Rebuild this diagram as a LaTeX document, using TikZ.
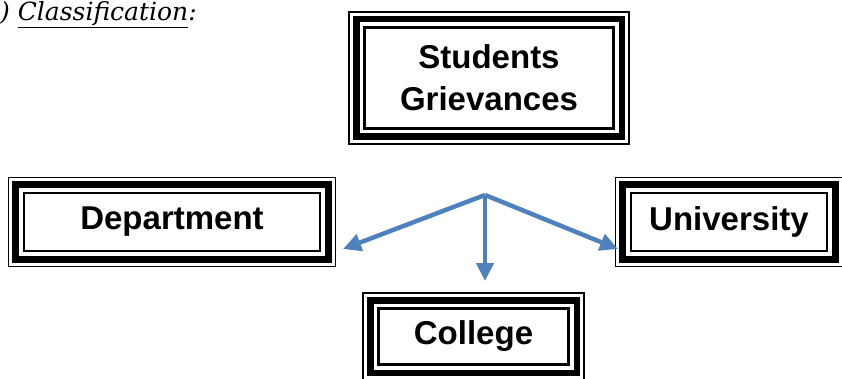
\documentclass[tikz,border=0pt]{standalone}
\usepackage{fontspec}
\usepackage{tikz}
\usepackage{xcolor}
\usetikzlibrary{arrows.meta}
\newfontfamily\boxfont{Liberation Sans}
\newfontfamily\headfont{DejaVu Serif}
\definecolor{flowblue}{HTML}{4F81BD}

% thin / thick / thin border round a box
\newcommand{\gframe}[1]{%
	\draw[line width=6.8pt] ([shift={(-7.3pt,7.3pt)}]#1.north west) rectangle ([shift={(7.3pt,-7.3pt)}]#1.south east);
	\draw[line width=1.6pt] ([shift={(-14.5pt,14.5pt)}]#1.north west) rectangle ([shift={(14.5pt,-14.5pt)}]#1.south east);
}

\begin{document}
\begin{tikzpicture}[x=1pt,y=-1pt,
	gbox/.style={draw,line width=2.2pt,align=center,inner sep=0pt,
		font=\boxfont\bfseries\fontsize{33}{42}\selectfont},
	flow/.style={draw=flowblue,line width=4.5pt,-{Triangle[length=18pt,width=17pt]}}]
		\useasboundingbox (0,0) rectangle (842,379);
		\node[anchor=base west,font=\headfont\itshape\fontsize{25}{30}\selectfont,inner sep=0pt] (head) at (0,21) {) \underline{Classification}:};
		\node[gbox,minimum width=249pt,minimum height=101pt] (griev) at (489,78) {Students\\Grievances};
		\node[gbox,minimum width=295.5pt,minimum height=58pt] (dept) at (172,222) {Department};
		\node[gbox,minimum width=195.5pt,minimum height=58pt] (univ) at (729,222) {University};
		\node[gbox,minimum width=190pt,minimum height=56pt] (coll) at (473.5,336.5) {College};
		\gframe{griev}
		\gframe{dept}
		\gframe{univ}
		\gframe{coll}
		\coordinate (hub) at (485,195);
		\coordinate (toDept) at (343,249);
		\coordinate (toColl) at (485,281);
		\coordinate (toUniv) at (618,249);
		\draw[flow] (hub) -- (toDept);
		\draw[flow] (hub) -- (toColl);
		\draw[flow] (hub) -- (toUniv);
	\end{tikzpicture}
\end{document}
